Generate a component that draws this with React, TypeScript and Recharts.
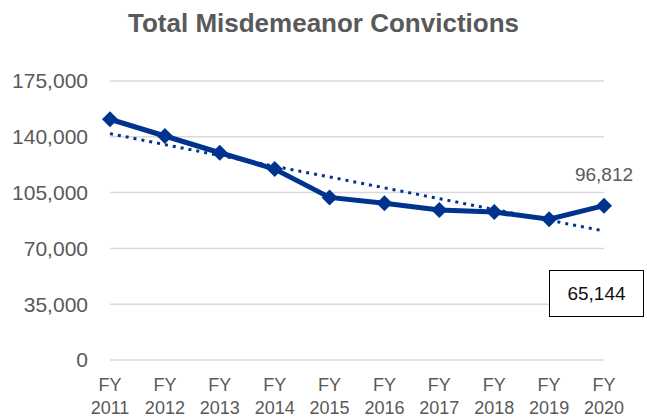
import React from 'react';
import { LineChart, Line, XAxis, YAxis, CartesianGrid, LabelList } from 'recharts';

const years = ['2011', '2012', '2013', '2014', '2015', '2016', '2017', '2018', '2019', '2020'];
const convictions = [151000, 140500, 130000, 119800, 102000, 98300, 94100, 92800, 88300, 96812];
const trend = [142000, 135100, 128300, 121500, 114800, 108000, 101200, 94400, 87700, 80900];
const yTicks = [0, 35000, 70000, 105000, 140000, 175000];
const boxValue = 65144;

const data = years.map((y, i) => ({ year: y, value: convictions[i], trend: trend[i] }));

const NAVY = '#00338d';
const GREY = '#595959';
const FONT = '"Liberation Sans", Arial, sans-serif';

const fmt = (v: number) => v.toLocaleString('en-US');

const Diamond = (props: any) => {
  const { cx, cy } = props;
  if (cx == null || cy == null) return null;
  const r = 8;
  return <polygon points={`${cx},${cy - r} ${cx + r},${cy} ${cx},${cy + r} ${cx - r},${cy}`} fill={NAVY} />;
};

// recharts hands the tick its text anchor point (axis + tickSize + tickMargin)
const YearTick = (props: any) => {
  const { x, y, payload } = props;
  return (
    <g transform={`translate(${x},${y})`}>
      <text x={0} y={23} textAnchor="middle" fill={GREY} fontSize={18} fontFamily={FONT}>
        FY
      </text>
      <text x={0} y={46} textAnchor="middle" fill={GREY} fontSize={18} fontFamily={FONT}>
        {payload.value}
      </text>
    </g>
  );
};

const LastLabel = (props: any) => {
  const { x, y, value, index } = props;
  if (index !== convictions.length - 1) return null;
  return (
    <text x={x} y={y - 25} textAnchor="middle" fill={GREY} fontSize={19} fontFamily={FONT}>
      {fmt(value)}
    </text>
  );
};

export default function App() {
  return (
    <div style={{ position: 'absolute', left: 0, top: 0, width: 647, height: 420, background: '#fff', fontFamily: FONT }}>
      <div
        style={{
          position: 'absolute',
          left: 0,
          top: 8,
          width: 647,
          textAlign: 'center',
          fontSize: 26,
          fontWeight: 700,
          color: GREY,
        }}
      >
        Total Misdemeanor Convictions
      </div>
      <LineChart width={647} height={420} data={data} margin={{ top: 81, right: 43, left: 10, bottom: 0 }}>
        <CartesianGrid vertical={false} stroke="#d9d9d9" strokeWidth={1.5} />
        <XAxis
          dataKey="year"
          axisLine={false}
          tickLine={false}
          height={60}
          interval={0}
          tick={<YearTick />}
          padding={{ left: 0, right: 0 }}
        />
        <YAxis
          domain={[0, 175000]}
          ticks={yTicks}
          width={100}
          axisLine={false}
          tickLine={false}
          tickSize={0}
          tickMargin={22}
          tickFormatter={fmt}
          tick={{ fill: GREY, fontSize: 21, fontFamily: FONT }}
        />
        <Line
          type="linear"
          dataKey="trend"
          stroke={NAVY}
          strokeWidth={3}
          strokeDasharray="3 5"
          dot={false}
          activeDot={false}
          isAnimationActive={false}
        />
        <Line
          type="linear"
          dataKey="value"
          stroke={NAVY}
          strokeWidth={5}
          dot={<Diamond />}
          activeDot={false}
          isAnimationActive={false}
        >
          <LabelList dataKey="value" content={<LastLabel />} />
        </Line>
      </LineChart>
      <div
        style={{
          position: 'absolute',
          left: 549,
          top: 270,
          width: 95,
          height: 47,
          border: '1.5px solid #000',
          boxSizing: 'border-box',
          display: 'flex',
          alignItems: 'center',
          justifyContent: 'center',
          fontSize: 19,
          color: '#111',
          background: '#fff',
        }}
      >
        {fmt(boxValue)}
      </div>
    </div>
  );
}
